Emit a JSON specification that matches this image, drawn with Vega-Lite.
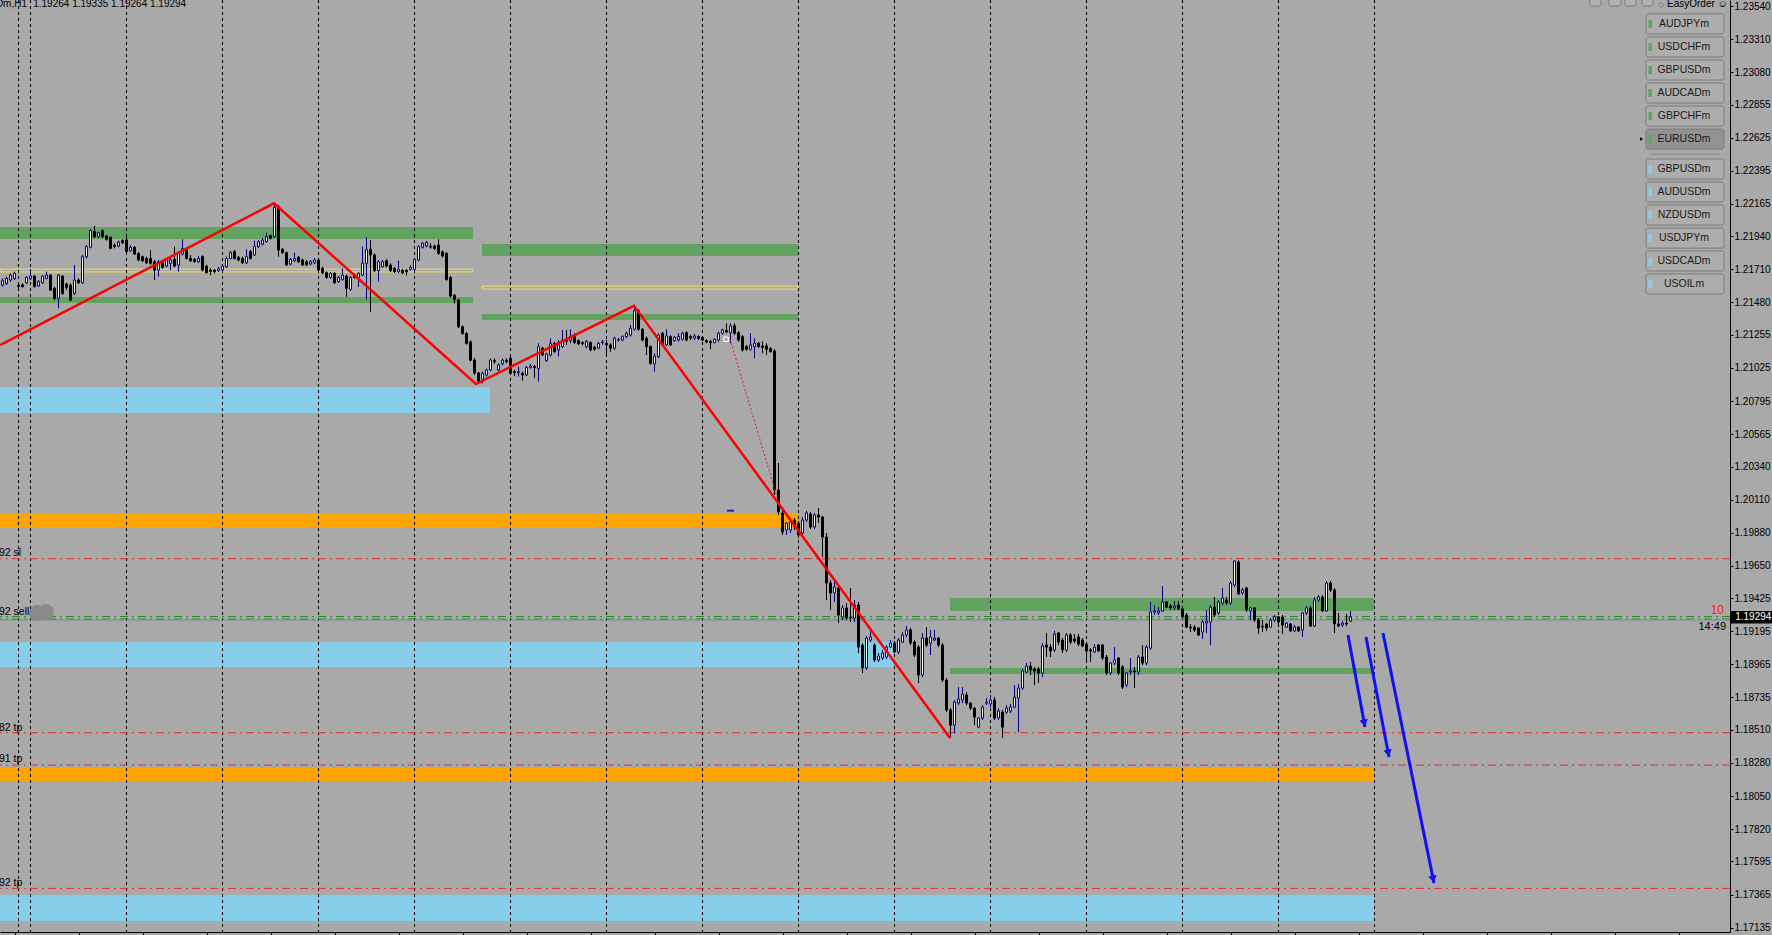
{
"$schema": "https://vega.github.io/schema/vega-lite/v6.json",
"width": 1730, "height": 932,
"autosize": {"type": "none"},
"padding": {"left": 0, "top": 0, "right": 42, "bottom": 3},
"background": "#A9A9A9",
"config": {"view": {"stroke": null, "fill": "#A9A9A9"}, "axis": {"grid": false}},
"datasets": {
"candles": [
{"i":0,"o":1.21601,"h":1.21647,"l":1.21589,"c":1.21631},
{"i":1,"o":1.21612,"h":1.21659,"l":1.21601,"c":1.21647},
{"i":2,"o":1.21636,"h":1.21682,"l":1.21624,"c":1.2167},
{"i":3,"o":1.21647,"h":1.21694,"l":1.21636,"c":1.21682},
{"i":4,"o":1.21599,"h":1.21617,"l":1.21566,"c":1.21592},
{"i":5,"o":1.21603,"h":1.21612,"l":1.21585,"c":1.21589},
{"i":6,"o":1.21617,"h":1.21663,"l":1.21608,"c":1.21654},
{"i":7,"o":1.21645,"h":1.21712,"l":1.21636,"c":1.21663},
{"i":8,"o":1.21663,"h":1.2167,"l":1.21585,"c":1.21589},
{"i":9,"o":1.21594,"h":1.21636,"l":1.21589,"c":1.21624},
{"i":10,"o":1.21617,"h":1.2167,"l":1.21608,"c":1.21663},
{"i":11,"o":1.21647,"h":1.21694,"l":1.2164,"c":1.2167},
{"i":12,"o":1.2167,"h":1.21677,"l":1.21561,"c":1.21566},
{"i":13,"o":1.21578,"h":1.21589,"l":1.21496,"c":1.21508},
{"i":14,"o":1.21508,"h":1.21677,"l":1.21438,"c":1.2167},
{"i":15,"o":1.21663,"h":1.2167,"l":1.21531,"c":1.21543},
{"i":16,"o":1.21608,"h":1.21617,"l":1.21566,"c":1.21585},
{"i":17,"o":1.21601,"h":1.21612,"l":1.21492,"c":1.21496},
{"i":18,"o":1.21543,"h":1.2174,"l":1.21531,"c":1.21636},
{"i":19,"o":1.21636,"h":1.21647,"l":1.21608,"c":1.21617},
{"i":20,"o":1.21617,"h":1.2181,"l":1.21608,"c":1.21798},
{"i":21,"o":1.21798,"h":1.21879,"l":1.21786,"c":1.21868},
{"i":22,"o":1.21863,"h":1.21988,"l":1.21856,"c":1.21979},
{"i":23,"o":1.21972,"h":1.22012,"l":1.21926,"c":1.21937},
{"i":24,"o":1.21937,"h":1.21972,"l":1.21926,"c":1.21965},
{"i":25,"o":1.21979,"h":1.21988,"l":1.21926,"c":1.21937},
{"i":26,"o":1.21942,"h":1.21949,"l":1.21909,"c":1.21919},
{"i":27,"o":1.21933,"h":1.21937,"l":1.21849,"c":1.21856},
{"i":28,"o":1.21877,"h":1.21891,"l":1.21856,"c":1.2187},
{"i":29,"o":1.21872,"h":1.21909,"l":1.21863,"c":1.219},
{"i":30,"o":1.21909,"h":1.21919,"l":1.21886,"c":1.21896},
{"i":31,"o":1.21914,"h":1.21937,"l":1.21821,"c":1.21833},
{"i":32,"o":1.2184,"h":1.21879,"l":1.21833,"c":1.21863},
{"i":33,"o":1.21863,"h":1.21872,"l":1.2181,"c":1.21817},
{"i":34,"o":1.21821,"h":1.2183,"l":1.21766,"c":1.21775},
{"i":35,"o":1.21798,"h":1.21807,"l":1.21761,"c":1.2177},
{"i":36,"o":1.21786,"h":1.21798,"l":1.21747,"c":1.21756},
{"i":37,"o":1.21786,"h":1.21844,"l":1.21742,"c":1.21752},
{"i":38,"o":1.21763,"h":1.21775,"l":1.21636,"c":1.21705},
{"i":39,"o":1.21705,"h":1.21775,"l":1.21659,"c":1.21763},
{"i":40,"o":1.21756,"h":1.21766,"l":1.21714,"c":1.21724},
{"i":41,"o":1.21733,"h":1.21786,"l":1.21724,"c":1.21775},
{"i":42,"o":1.21752,"h":1.21798,"l":1.21705,"c":1.21775},
{"i":43,"o":1.21779,"h":1.21868,"l":1.21724,"c":1.21733},
{"i":44,"o":1.2174,"h":1.21833,"l":1.21694,"c":1.21821},
{"i":45,"o":1.21817,"h":1.21919,"l":1.21807,"c":1.21856},
{"i":46,"o":1.21849,"h":1.21858,"l":1.21779,"c":1.21786},
{"i":47,"o":1.21786,"h":1.2181,"l":1.21761,"c":1.2177},
{"i":48,"o":1.21779,"h":1.21789,"l":1.21756,"c":1.21763},
{"i":49,"o":1.21763,"h":1.21803,"l":1.21756,"c":1.21786},
{"i":50,"o":1.21798,"h":1.21807,"l":1.21696,"c":1.21705},
{"i":51,"o":1.21733,"h":1.21742,"l":1.21682,"c":1.21687},
{"i":52,"o":1.21705,"h":1.21719,"l":1.2167,"c":1.21696},
{"i":53,"o":1.21705,"h":1.21714,"l":1.21682,"c":1.21694},
{"i":54,"o":1.21701,"h":1.21728,"l":1.21691,"c":1.21714},
{"i":55,"o":1.21705,"h":1.21742,"l":1.21696,"c":1.21733},
{"i":56,"o":1.21728,"h":1.21798,"l":1.21719,"c":1.21786},
{"i":57,"o":1.21786,"h":1.21838,"l":1.21779,"c":1.21826},
{"i":58,"o":1.21833,"h":1.21844,"l":1.21779,"c":1.21786},
{"i":59,"o":1.21793,"h":1.21803,"l":1.21766,"c":1.21775},
{"i":60,"o":1.21786,"h":1.21798,"l":1.21747,"c":1.21756},
{"i":61,"o":1.21756,"h":1.21849,"l":1.21747,"c":1.21798},
{"i":62,"o":1.21833,"h":1.21844,"l":1.21779,"c":1.21786},
{"i":63,"o":1.2181,"h":1.21909,"l":1.21803,"c":1.21868},
{"i":64,"o":1.21868,"h":1.21914,"l":1.21858,"c":1.21902},
{"i":65,"o":1.21886,"h":1.21926,"l":1.21877,"c":1.21914},
{"i":66,"o":1.21902,"h":1.21965,"l":1.21896,"c":1.21937},
{"i":67,"o":1.21944,"h":1.21953,"l":1.21919,"c":1.21926},
{"i":68,"o":1.21937,"h":1.22165,"l":1.21928,"c":1.22141},
{"i":69,"o":1.22146,"h":1.22158,"l":1.21798,"c":1.21844},
{"i":70,"o":1.21849,"h":1.21858,"l":1.21817,"c":1.21826},
{"i":71,"o":1.21826,"h":1.21835,"l":1.21733,"c":1.2174},
{"i":72,"o":1.21747,"h":1.21789,"l":1.21738,"c":1.21779},
{"i":73,"o":1.2177,"h":1.21826,"l":1.21761,"c":1.21786},
{"i":74,"o":1.21793,"h":1.21803,"l":1.21756,"c":1.21763},
{"i":75,"o":1.21775,"h":1.21784,"l":1.21733,"c":1.2174},
{"i":76,"o":1.21763,"h":1.21775,"l":1.21733,"c":1.2174},
{"i":77,"o":1.21747,"h":1.21775,"l":1.21738,"c":1.21763},
{"i":78,"o":1.21756,"h":1.21789,"l":1.21747,"c":1.21775},
{"i":79,"o":1.21775,"h":1.21784,"l":1.21696,"c":1.21705},
{"i":80,"o":1.21717,"h":1.21728,"l":1.21677,"c":1.21687},
{"i":81,"o":1.21687,"h":1.21696,"l":1.21645,"c":1.21654},
{"i":82,"o":1.21654,"h":1.21691,"l":1.21645,"c":1.21682},
{"i":83,"o":1.21682,"h":1.21691,"l":1.21608,"c":1.21617},
{"i":84,"o":1.21624,"h":1.21663,"l":1.21617,"c":1.21654},
{"i":85,"o":1.2164,"h":1.21717,"l":1.21631,"c":1.2167},
{"i":86,"o":1.21663,"h":1.21673,"l":1.2152,"c":1.21578},
{"i":87,"o":1.21571,"h":1.21663,"l":1.21561,"c":1.21654},
{"i":88,"o":1.2167,"h":1.21682,"l":1.21645,"c":1.21654},
{"i":89,"o":1.21654,"h":1.21691,"l":1.21589,"c":1.21682},
{"i":90,"o":1.2167,"h":1.21868,"l":1.21663,"c":1.21752},
{"i":91,"o":1.21752,"h":1.21933,"l":1.21501,"c":1.21849},
{"i":92,"o":1.21849,"h":1.21914,"l":1.21415,"c":1.2181},
{"i":93,"o":1.2181,"h":1.21821,"l":1.21691,"c":1.21701},
{"i":94,"o":1.21701,"h":1.21775,"l":1.21624,"c":1.21763},
{"i":95,"o":1.21728,"h":1.21775,"l":1.21719,"c":1.21763},
{"i":96,"o":1.2177,"h":1.21779,"l":1.21724,"c":1.21733},
{"i":97,"o":1.2174,"h":1.21752,"l":1.21691,"c":1.21701},
{"i":98,"o":1.21717,"h":1.21726,"l":1.21684,"c":1.21694},
{"i":99,"o":1.21694,"h":1.2177,"l":1.21684,"c":1.2171},
{"i":100,"o":1.21705,"h":1.21714,"l":1.21677,"c":1.21687},
{"i":101,"o":1.21703,"h":1.21714,"l":1.21668,"c":1.21694},
{"i":102,"o":1.2171,"h":1.21738,"l":1.21701,"c":1.21724},
{"i":103,"o":1.2171,"h":1.21789,"l":1.21701,"c":1.21779},
{"i":104,"o":1.21775,"h":1.21877,"l":1.21766,"c":1.21868},
{"i":105,"o":1.21863,"h":1.219,"l":1.21854,"c":1.21891},
{"i":106,"o":1.21872,"h":1.21907,"l":1.21863,"c":1.21898},
{"i":107,"o":1.2187,"h":1.21891,"l":1.21854,"c":1.21865},
{"i":108,"o":1.21872,"h":1.21882,"l":1.21844,"c":1.21856},
{"i":109,"o":1.21879,"h":1.21919,"l":1.21812,"c":1.21821},
{"i":110,"o":1.21833,"h":1.21842,"l":1.21793,"c":1.21803},
{"i":111,"o":1.21821,"h":1.2183,"l":1.21631,"c":1.2164},
{"i":112,"o":1.21654,"h":1.21663,"l":1.21515,"c":1.21524},
{"i":113,"o":1.21531,"h":1.21538,"l":1.21473,"c":1.21501},
{"i":114,"o":1.21496,"h":1.21506,"l":1.21302,"c":1.21311},
{"i":115,"o":1.21311,"h":1.2132,"l":1.21255,"c":1.21264},
{"i":116,"o":1.21264,"h":1.21274,"l":1.21186,"c":1.21195},
{"i":117,"o":1.21206,"h":1.21216,"l":1.2107,"c":1.21079},
{"i":118,"o":1.2108,"h":1.21094,"l":1.20976,"c":1.2099},
{"i":119,"o":1.2099,"h":1.20997,"l":1.20913,"c":1.20934},
{"i":120,"o":1.20946,"h":1.20999,"l":1.20918,"c":1.20988},
{"i":121,"o":1.20976,"h":1.2102,"l":1.20965,"c":1.21011},
{"i":122,"o":1.21011,"h":1.21092,"l":1.21002,"c":1.2108},
{"i":123,"o":1.21076,"h":1.21092,"l":1.21053,"c":1.21069},
{"i":124,"o":1.21011,"h":1.21057,"l":1.21002,"c":1.21046},
{"i":125,"o":1.21053,"h":1.2109,"l":1.21043,"c":1.2108},
{"i":126,"o":1.21076,"h":1.21092,"l":1.21057,"c":1.21069},
{"i":127,"o":1.21092,"h":1.21104,"l":1.20979,"c":1.20988},
{"i":128,"o":1.20999,"h":1.21011,"l":1.20969,"c":1.20992},
{"i":129,"o":1.20992,"h":1.21034,"l":1.20965,"c":1.20999},
{"i":130,"o":1.20988,"h":1.20999,"l":1.20937,"c":1.20976},
{"i":131,"o":1.20976,"h":1.21039,"l":1.20969,"c":1.21029},
{"i":132,"o":1.21029,"h":1.21053,"l":1.2102,"c":1.21039},
{"i":133,"o":1.21034,"h":1.21046,"l":1.20953,"c":1.21029},
{"i":134,"o":1.21022,"h":1.21196,"l":1.2093,"c":1.21173},
{"i":135,"o":1.21162,"h":1.21173,"l":1.21108,"c":1.21115},
{"i":136,"o":1.21076,"h":1.21131,"l":1.21067,"c":1.21122},
{"i":137,"o":1.21115,"h":1.21231,"l":1.21104,"c":1.21196},
{"i":138,"o":1.21196,"h":1.21206,"l":1.21131,"c":1.21138},
{"i":139,"o":1.2115,"h":1.21219,"l":1.21104,"c":1.21185},
{"i":140,"o":1.21173,"h":1.21289,"l":1.21162,"c":1.21219},
{"i":141,"o":1.21215,"h":1.21289,"l":1.21185,"c":1.2121},
{"i":142,"o":1.21215,"h":1.21294,"l":1.21196,"c":1.21243},
{"i":143,"o":1.21247,"h":1.21266,"l":1.21192,"c":1.21201},
{"i":144,"o":1.21215,"h":1.21224,"l":1.21185,"c":1.21192},
{"i":145,"o":1.21201,"h":1.2121,"l":1.21182,"c":1.21196},
{"i":146,"o":1.21173,"h":1.21219,"l":1.21162,"c":1.21208},
{"i":147,"o":1.21201,"h":1.2121,"l":1.21141,"c":1.2115},
{"i":148,"o":1.21168,"h":1.21178,"l":1.21145,"c":1.21155},
{"i":149,"o":1.21162,"h":1.21206,"l":1.21155,"c":1.21196},
{"i":150,"o":1.21201,"h":1.21219,"l":1.21187,"c":1.21206},
{"i":151,"o":1.21196,"h":1.21219,"l":1.21115,"c":1.21185},
{"i":152,"o":1.21185,"h":1.21196,"l":1.21138,"c":1.21162},
{"i":153,"o":1.21162,"h":1.21243,"l":1.2115,"c":1.21231},
{"i":154,"o":1.21219,"h":1.21233,"l":1.21206,"c":1.21224},
{"i":155,"o":1.21219,"h":1.21252,"l":1.2121,"c":1.21243},
{"i":156,"o":1.21243,"h":1.21277,"l":1.21231,"c":1.21266},
{"i":157,"o":1.21254,"h":1.21324,"l":1.21243,"c":1.21301},
{"i":158,"o":1.21294,"h":1.21451,"l":1.21284,"c":1.21423},
{"i":159,"o":1.21423,"h":1.21433,"l":1.21284,"c":1.21294},
{"i":160,"o":1.21294,"h":1.21303,"l":1.2121,"c":1.21219},
{"i":161,"o":1.21231,"h":1.21243,"l":1.21115,"c":1.21173},
{"i":162,"o":1.21173,"h":1.21182,"l":1.21048,"c":1.21057},
{"i":163,"o":1.21053,"h":1.21127,"l":1.20999,"c":1.21108},
{"i":164,"o":1.21104,"h":1.21266,"l":1.21094,"c":1.21254},
{"i":165,"o":1.21266,"h":1.21275,"l":1.21178,"c":1.21185},
{"i":166,"o":1.21185,"h":1.21294,"l":1.21178,"c":1.21247},
{"i":167,"o":1.21243,"h":1.21252,"l":1.21178,"c":1.21185},
{"i":168,"o":1.21215,"h":1.21247,"l":1.21206,"c":1.21238},
{"i":169,"o":1.21219,"h":1.21266,"l":1.21208,"c":1.21243},
{"i":170,"o":1.21224,"h":1.21277,"l":1.21215,"c":1.21266},
{"i":171,"o":1.2127,"h":1.2128,"l":1.2121,"c":1.21219},
{"i":172,"o":1.21243,"h":1.21254,"l":1.21219,"c":1.21233},
{"i":173,"o":1.21231,"h":1.21261,"l":1.21219,"c":1.21247},
{"i":174,"o":1.21243,"h":1.21252,"l":1.21219,"c":1.21231},
{"i":175,"o":1.21238,"h":1.21247,"l":1.2121,"c":1.21219},
{"i":176,"o":1.21215,"h":1.21224,"l":1.21196,"c":1.21206},
{"i":177,"o":1.21208,"h":1.21219,"l":1.21155,"c":1.21201},
{"i":178,"o":1.21201,"h":1.21231,"l":1.21196,"c":1.21224},
{"i":179,"o":1.21219,"h":1.21277,"l":1.21208,"c":1.21266},
{"i":180,"o":1.21266,"h":1.21298,"l":1.21257,"c":1.21289},
{"i":181,"o":1.21284,"h":1.21335,"l":1.21266,"c":1.21275},
{"i":182,"o":1.2127,"h":1.21335,"l":1.21196,"c":1.21317},
{"i":183,"o":1.21317,"h":1.21335,"l":1.21254,"c":1.21266},
{"i":184,"o":1.2127,"h":1.2128,"l":1.21208,"c":1.21219},
{"i":185,"o":1.21243,"h":1.21254,"l":1.21138,"c":1.2115},
{"i":186,"o":1.21173,"h":1.21185,"l":1.21145,"c":1.21155},
{"i":187,"o":1.21155,"h":1.21266,"l":1.21145,"c":1.21185},
{"i":188,"o":1.21173,"h":1.21231,"l":1.21092,"c":1.21196},
{"i":189,"o":1.21196,"h":1.21206,"l":1.21164,"c":1.21173},
{"i":190,"o":1.21178,"h":1.21208,"l":1.21127,"c":1.21168},
{"i":191,"o":1.21178,"h":1.21196,"l":1.21115,"c":1.21155},
{"i":192,"o":1.21162,"h":1.21168,"l":1.21131,"c":1.21138},
{"i":193,"o":1.21143,"h":1.21156,"l":1.20142,"c":1.20177},
{"i":194,"o":1.20177,"h":1.20364,"l":1.20003,"c":1.20024},
{"i":195,"o":1.20017,"h":1.20038,"l":1.19864,"c":1.19885},
{"i":196,"o":1.19899,"h":1.19954,"l":1.19864,"c":1.19947},
{"i":197,"o":1.19899,"h":1.19968,"l":1.19878,"c":1.19954},
{"i":198,"o":1.19968,"h":1.19982,"l":1.19899,"c":1.19926},
{"i":199,"o":1.19947,"h":1.19961,"l":1.19843,"c":1.19864},
{"i":200,"o":1.19878,"h":1.19989,"l":1.19864,"c":1.19968},
{"i":201,"o":1.19968,"h":1.20031,"l":1.19954,"c":1.20017},
{"i":202,"o":1.2001,"h":1.20024,"l":1.19906,"c":1.19919},
{"i":203,"o":1.19919,"h":1.20017,"l":1.19906,"c":1.20003},
{"i":204,"o":1.20003,"h":1.20051,"l":1.19947,"c":1.19989},
{"i":205,"o":1.19989,"h":1.19996,"l":1.19711,"c":1.1985},
{"i":206,"o":1.1985,"h":1.19878,"l":1.19412,"c":1.1953},
{"i":207,"o":1.1953,"h":1.19551,"l":1.19343,"c":1.19461},
{"i":208,"o":1.19461,"h":1.19551,"l":1.19398,"c":1.19503},
{"i":209,"o":1.19496,"h":1.19509,"l":1.19252,"c":1.19308},
{"i":210,"o":1.19294,"h":1.19377,"l":1.19273,"c":1.19357},
{"i":211,"o":1.19357,"h":1.19391,"l":1.19273,"c":1.19287},
{"i":212,"o":1.19294,"h":1.19496,"l":1.19259,"c":1.19287},
{"i":213,"o":1.19287,"h":1.19412,"l":1.19259,"c":1.19377},
{"i":214,"o":1.19377,"h":1.19398,"l":1.19044,"c":1.19085},
{"i":215,"o":1.19099,"h":1.19113,"l":1.18905,"c":1.1894},
{"i":216,"o":1.1894,"h":1.19162,"l":1.18926,"c":1.19148},
{"i":217,"o":1.19134,"h":1.19204,"l":1.1912,"c":1.19155},
{"i":218,"o":1.19099,"h":1.19113,"l":1.18981,"c":1.18995},
{"i":219,"o":1.18995,"h":1.19044,"l":1.18981,"c":1.19023},
{"i":220,"o":1.19009,"h":1.19065,"l":1.18995,"c":1.19044},
{"i":221,"o":1.19016,"h":1.19099,"l":1.19002,"c":1.19085},
{"i":222,"o":1.19085,"h":1.19134,"l":1.19078,"c":1.19113},
{"i":223,"o":1.19113,"h":1.19127,"l":1.19044,"c":1.19051},
{"i":224,"o":1.19051,"h":1.19148,"l":1.19037,"c":1.19134},
{"i":225,"o":1.1912,"h":1.1919,"l":1.19113,"c":1.19169},
{"i":226,"o":1.19169,"h":1.19231,"l":1.19155,"c":1.19204},
{"i":227,"o":1.19204,"h":1.19218,"l":1.19099,"c":1.19113},
{"i":228,"o":1.1912,"h":1.19134,"l":1.19016,"c":1.1903},
{"i":229,"o":1.19085,"h":1.19099,"l":1.18835,"c":1.18891},
{"i":230,"o":1.18891,"h":1.19183,"l":1.18877,"c":1.19148},
{"i":231,"o":1.19148,"h":1.19224,"l":1.19085,"c":1.19099},
{"i":232,"o":1.19113,"h":1.19204,"l":1.1903,"c":1.19155},
{"i":233,"o":1.19134,"h":1.19204,"l":1.19127,"c":1.19148},
{"i":234,"o":1.19148,"h":1.19155,"l":1.19085,"c":1.19099},
{"i":235,"o":1.19099,"h":1.19113,"l":1.18842,"c":1.18856},
{"i":236,"o":1.18856,"h":1.1887,"l":1.18633,"c":1.18648},
{"i":237,"o":1.18648,"h":1.18661,"l":1.18453,"c":1.18543},
{"i":238,"o":1.18543,"h":1.18717,"l":1.18488,"c":1.18703},
{"i":239,"o":1.18696,"h":1.18807,"l":1.18682,"c":1.18724},
{"i":240,"o":1.18717,"h":1.18807,"l":1.18696,"c":1.18759},
{"i":241,"o":1.18752,"h":1.18773,"l":1.18682,"c":1.18696},
{"i":242,"o":1.18696,"h":1.18703,"l":1.18648,"c":1.18661},
{"i":243,"o":1.18661,"h":1.18668,"l":1.18543,"c":1.18599},
{"i":244,"o":1.18529,"h":1.18599,"l":1.18522,"c":1.18592},
{"i":245,"o":1.18592,"h":1.18682,"l":1.18578,"c":1.18668},
{"i":246,"o":1.18696,"h":1.18731,"l":1.18682,"c":1.18703},
{"i":247,"o":1.18689,"h":1.18752,"l":1.18668,"c":1.18717},
{"i":248,"o":1.18717,"h":1.18738,"l":1.18578,"c":1.18592},
{"i":249,"o":1.18592,"h":1.18661,"l":1.18578,"c":1.18641},
{"i":250,"o":1.18633,"h":1.18648,"l":1.18453,"c":1.18529},
{"i":251,"o":1.18633,"h":1.18682,"l":1.1862,"c":1.18661},
{"i":252,"o":1.18641,"h":1.18689,"l":1.18627,"c":1.18668},
{"i":253,"o":1.18668,"h":1.18821,"l":1.18661,"c":1.18738},
{"i":254,"o":1.18731,"h":1.18828,"l":1.18495,"c":1.188},
{"i":255,"o":1.188,"h":1.18933,"l":1.18787,"c":1.18919},
{"i":256,"o":1.18912,"h":1.18974,"l":1.18905,"c":1.18953},
{"i":257,"o":1.18953,"h":1.18981,"l":1.18891,"c":1.18926},
{"i":258,"o":1.18933,"h":1.18947,"l":1.18821,"c":1.18919},
{"i":259,"o":1.18933,"h":1.18947,"l":1.18835,"c":1.18905},
{"i":260,"o":1.18905,"h":1.19113,"l":1.18877,"c":1.19092},
{"i":261,"o":1.19099,"h":1.19183,"l":1.19016,"c":1.19085},
{"i":262,"o":1.19085,"h":1.19106,"l":1.19016,"c":1.19058},
{"i":263,"o":1.19065,"h":1.19197,"l":1.19051,"c":1.19176},
{"i":264,"o":1.19183,"h":1.1919,"l":1.19099,"c":1.1912},
{"i":265,"o":1.19134,"h":1.19148,"l":1.19044,"c":1.19065},
{"i":266,"o":1.19065,"h":1.19183,"l":1.19051,"c":1.19169},
{"i":267,"o":1.19169,"h":1.19183,"l":1.19106,"c":1.1912},
{"i":268,"o":1.19141,"h":1.19176,"l":1.19113,"c":1.19127},
{"i":269,"o":1.19155,"h":1.19176,"l":1.19092,"c":1.19106},
{"i":270,"o":1.19134,"h":1.19148,"l":1.19085,"c":1.19092},
{"i":271,"o":1.19106,"h":1.1912,"l":1.18995,"c":1.19058},
{"i":272,"o":1.19065,"h":1.19078,"l":1.18981,"c":1.19058},
{"i":273,"o":1.19051,"h":1.19106,"l":1.19044,"c":1.19085},
{"i":274,"o":1.19099,"h":1.19106,"l":1.19051,"c":1.19058},
{"i":275,"o":1.19099,"h":1.19106,"l":1.18995,"c":1.19009},
{"i":276,"o":1.19016,"h":1.1903,"l":1.18891,"c":1.18905},
{"i":277,"o":1.18905,"h":1.18981,"l":1.18891,"c":1.18974},
{"i":278,"o":1.18974,"h":1.19085,"l":1.1896,"c":1.18995},
{"i":279,"o":1.19009,"h":1.19016,"l":1.18891,"c":1.18905},
{"i":280,"o":1.18947,"h":1.1896,"l":1.18794,"c":1.18807},
{"i":281,"o":1.18821,"h":1.18912,"l":1.18807,"c":1.18905},
{"i":282,"o":1.18912,"h":1.19009,"l":1.18891,"c":1.18919},
{"i":283,"o":1.18919,"h":1.18947,"l":1.188,"c":1.18912},
{"i":284,"o":1.18912,"h":1.1903,"l":1.18891,"c":1.19016},
{"i":285,"o":1.19016,"h":1.19099,"l":1.1896,"c":1.18974},
{"i":286,"o":1.18974,"h":1.19099,"l":1.1896,"c":1.19085},
{"i":287,"o":1.19078,"h":1.19398,"l":1.19065,"c":1.19329},
{"i":288,"o":1.19329,"h":1.19377,"l":1.19308,"c":1.19336},
{"i":289,"o":1.19322,"h":1.19363,"l":1.19308,"c":1.19336},
{"i":290,"o":1.19336,"h":1.19509,"l":1.19329,"c":1.19398},
{"i":291,"o":1.19398,"h":1.19405,"l":1.19357,"c":1.19363},
{"i":292,"o":1.1937,"h":1.19384,"l":1.19343,"c":1.19357},
{"i":293,"o":1.19357,"h":1.19405,"l":1.19343,"c":1.1937},
{"i":294,"o":1.19377,"h":1.19405,"l":1.19343,"c":1.1935},
{"i":295,"o":1.1935,"h":1.19357,"l":1.19287,"c":1.19294},
{"i":296,"o":1.19308,"h":1.19322,"l":1.19218,"c":1.19224},
{"i":297,"o":1.19224,"h":1.19245,"l":1.1919,"c":1.19218},
{"i":298,"o":1.19224,"h":1.19238,"l":1.1919,"c":1.19204},
{"i":299,"o":1.19218,"h":1.19218,"l":1.19162,"c":1.19169},
{"i":300,"o":1.1919,"h":1.19273,"l":1.19141,"c":1.19259},
{"i":301,"o":1.19252,"h":1.19343,"l":1.19183,"c":1.19266},
{"i":302,"o":1.19259,"h":1.19377,"l":1.19099,"c":1.19363},
{"i":303,"o":1.19363,"h":1.19433,"l":1.19294,"c":1.19308},
{"i":304,"o":1.19322,"h":1.19412,"l":1.19308,"c":1.19398},
{"i":305,"o":1.19391,"h":1.19496,"l":1.19377,"c":1.19426},
{"i":306,"o":1.19412,"h":1.19433,"l":1.19377,"c":1.19391},
{"i":307,"o":1.19391,"h":1.19544,"l":1.19377,"c":1.1953},
{"i":308,"o":1.19516,"h":1.1969,"l":1.19503,"c":1.19683},
{"i":309,"o":1.19676,"h":1.1969,"l":1.19447,"c":1.19454},
{"i":310,"o":1.19461,"h":1.19496,"l":1.19447,"c":1.19482},
{"i":311,"o":1.19496,"h":1.19503,"l":1.19329,"c":1.19343},
{"i":312,"o":1.19336,"h":1.19363,"l":1.19273,"c":1.19357},
{"i":313,"o":1.19357,"h":1.19363,"l":1.19259,"c":1.19273},
{"i":314,"o":1.19273,"h":1.19287,"l":1.19176,"c":1.19218},
{"i":315,"o":1.19231,"h":1.19273,"l":1.1919,"c":1.19224},
{"i":316,"o":1.19245,"h":1.19252,"l":1.19197,"c":1.19218},
{"i":317,"o":1.19224,"h":1.19287,"l":1.19218,"c":1.19273},
{"i":318,"o":1.19273,"h":1.19308,"l":1.19259,"c":1.19294},
{"i":319,"o":1.19294,"h":1.19301,"l":1.19245,"c":1.19259},
{"i":320,"o":1.19294,"h":1.19308,"l":1.19176,"c":1.19238},
{"i":321,"o":1.19224,"h":1.19259,"l":1.19218,"c":1.19252},
{"i":322,"o":1.19245,"h":1.19252,"l":1.1919,"c":1.19197},
{"i":323,"o":1.19197,"h":1.19238,"l":1.1919,"c":1.19224},
{"i":324,"o":1.19224,"h":1.19231,"l":1.1919,"c":1.19197},
{"i":325,"o":1.19204,"h":1.19329,"l":1.19155,"c":1.19322},
{"i":326,"o":1.19322,"h":1.1937,"l":1.19308,"c":1.19357},
{"i":327,"o":1.19357,"h":1.1937,"l":1.19224,"c":1.19231},
{"i":328,"o":1.19231,"h":1.19433,"l":1.19224,"c":1.19412},
{"i":329,"o":1.19412,"h":1.19447,"l":1.19398,"c":1.19433},
{"i":330,"o":1.19433,"h":1.19447,"l":1.19329,"c":1.19336},
{"i":331,"o":1.19336,"h":1.19544,"l":1.19329,"c":1.1953},
{"i":332,"o":1.1953,"h":1.19544,"l":1.19468,"c":1.19482},
{"i":333,"o":1.19482,"h":1.19496,"l":1.19183,"c":1.19245},
{"i":334,"o":1.19245,"h":1.19322,"l":1.19224,"c":1.19231},
{"i":335,"o":1.19238,"h":1.19266,"l":1.19224,"c":1.19252},
{"i":336,"o":1.19252,"h":1.19315,"l":1.19231,"c":1.19245},
{"i":337,"o":1.19264,"h":1.19335,"l":1.19264,"c":1.19294}
],
"zones": [
{"x1":-0.5,"x2":117.75,"p1":1.22005,"p2":1.21921,"kind":"supply"},
{"x1":-0.5,"x2":117.75,"p1":1.21518,"p2":1.21476,"kind":"supply"},
{"x1":-0.5,"x2":122,"p1":1.20892,"p2":1.20712,"kind":"demand"},
{"x1":120,"x2":199,"p1":1.21886,"p2":1.21803,"kind":"supply"},
{"x1":120,"x2":199,"p1":1.214,"p2":1.21358,"kind":"supply"},
{"x1":-0.5,"x2":198.75,"p1":1.2001,"p2":1.19919,"kind":"key"},
{"x1":-0.5,"x2":222.75,"p1":1.1912,"p2":1.18946,"kind":"demand"},
{"x1":237,"x2":343,"p1":1.19426,"p2":1.19336,"kind":"supply"},
{"x1":237,"x2":343,"p1":1.1894,"p2":1.18898,"kind":"supply"},
{"x1":-0.5,"x2":343,"p1":1.18244,"p2":1.18154,"kind":"key"},
{"x1":-0.5,"x2":343,"p1":1.17362,"p2":1.17181,"kind":"demand"}
],
"outlines": [
{"x1":-0.5,"x2":117.75,"p1":1.21712,"p2":1.21692},
{"x1":120,"x2":199,"p1":1.21594,"p2":1.21573}
],
"seps": [{"i":4},{"i":7},{"i":31},{"i":55},{"i":79},{"i":103},{"i":127},{"i":151},{"i":175},{"i":199},{"i":223},{"i":247},{"i":271},{"i":295},{"i":319},{"i":343}],
"levels": [
{"p":1.19699,"kind":"sl"},{"p":1.1849,"kind":"tp"},{"p":1.18265,"kind":"tp"},{"p":1.17408,"kind":"tp"},
{"p":1.19297,"kind":"entry"},{"p":1.1928,"kind":"entry"},{"p":1.19273,"kind":"price"}
],
"zigzag": [
{"n":0,"i":-0.5,"p":1.21184},{"n":1,"i":68,"p":1.22169},{"n":2,"i":118.5,"p":1.20913},{"n":3,"i":158,"p":1.21457},{"n":4,"i":237,"p":1.18453}
],
"segs": [
{"kind":"proj","i":182,"p":1.21226,"i2":193.75,"p2":1.20128},
{"kind":"arrow","i":336.5,"p":1.19169,"i2":340.75,"p2":1.18529},
{"kind":"arrow","i":341,"p":1.19155,"i2":346.75,"p2":1.18321},
{"kind":"arrow","i":345.25,"p":1.19183,"i2":358,"p2":1.17445},
{"kind":"tick","i":181.25,"p":1.20033,"i2":183,"p2":1.20033}
],
"heads": [{"i":340.57,"p":1.18556},{"i":346.56,"p":1.18348},{"i":357.8,"p":1.17472}],
"leftText": [
{"i":-0.75,"p":1.19739,"t":"92 sl"},
{"i":-0.75,"p":1.19331,"t":"92 sell"},
{"i":-0.75,"p":1.18525,"t":"82 tp"},
{"i":-0.75,"p":1.18307,"t":"91 tp"},
{"i":-0.75,"p":1.17447,"t":"92 tp"}
],
"headText": [
{"i":7.8,"p":1.23557,"t":"1.19264 1.19335 1.19264 1.19294"},
{"i":416.25,"p":1.23557,"t":"EasyOrder ☺"}
],
"rightText": [
{"i":6.25,"p":1.23557,"t":"EURUSDm,H1"}
],
"toolbar": [
{"i":396.9,"i2":399.75,"p":1.23617,"p2":1.2354},
{"i":401.75,"i2":404.75,"p":1.23617,"p2":1.2354},
{"i":405.75,"i2":408.5,"p":1.23617,"p2":1.2354},
{"i":410,"i2":412.75,"p":1.23617,"p2":1.2354},
{"i":414.25,"i2":415.25,"p":1.23561,"p2":1.23533}
],
"buttons": [
{"sym":"AUDJPYm","side":"buy","on":false,"p":1.23485,"p2":1.23346,"pm":1.23415,"q":1.23443,"q2":1.23388},
{"sym":"USDCHFm","side":"buy","on":false,"p":1.23325,"p2":1.23186,"pm":1.23255,"q":1.23283,"q2":1.23228},
{"sym":"GBPUSDm","side":"buy","on":false,"p":1.23165,"p2":1.23026,"pm":1.23096,"q":1.23123,"q2":1.23068},
{"sym":"AUDCADm","side":"buy","on":false,"p":1.23005,"p2":1.22866,"pm":1.22936,"q":1.22963,"q2":1.22908},
{"sym":"GBPCHFm","side":"buy","on":false,"p":1.22845,"p2":1.22706,"pm":1.22776,"q":1.22804,"q2":1.22748},
{"sym":"EURUSDm","side":"buy","on":true,"p":1.22685,"p2":1.22546,"pm":1.22616,"q":1.22644,"q2":1.22588},
{"sym":"GBPUSDm","side":"sell","on":false,"p":1.22477,"p2":1.22338,"pm":1.22408,"q":1.22435,"q2":1.2238},
{"sym":"AUDUSDm","side":"sell","on":false,"p":1.22317,"p2":1.22178,"pm":1.22248,"q":1.22275,"q2":1.2222},
{"sym":"NZDUSDm","side":"sell","on":false,"p":1.22157,"p2":1.22018,"pm":1.22088,"q":1.22116,"q2":1.2206},
{"sym":"USDJPYm","side":"sell","on":false,"p":1.21997,"p2":1.21858,"pm":1.21928,"q":1.21956,"q2":1.219},
{"sym":"USDCADm","side":"sell","on":false,"p":1.21838,"p2":1.21699,"pm":1.21768,"q":1.21796,"q2":1.2174},
{"sym":"USOILm","side":"sell","on":false,"p":1.21678,"p2":1.21539,"pm":1.21608,"q":1.21636,"q2":1.2158}
]
},
"layer": [
{"data": {"name": "zones"}, "mark": {"type": "rect"},
 "encoding": {
  "x": {"field": "x1", "type": "quantitative", "title": null, "scale": {"domain": [-0.5, 432], "nice": false, "zero": false, "padding": 0},
        "axis": {"orient": "bottom", "values": [3.2,19.2,35.2,51.2,67.2,83.2,99.2,115.2,131.2,147.2,163.2,179.2,195.2,211.2,227.2,243.2,259.2,275.2,291.2,307.2,323.2,339.2,355.2,371.2,387.2,403.2,419.2], "tickCount": 100, "labels": false, "ticks": true, "domain": true, "tickSize": 4, "tickColor": "#000000", "domainColor": "#000000", "grid": false, "title": null}},
  "x2": {"field": "x2"},
  "y": {"field": "p1", "type": "quantitative", "title": null, "scale": {"domain": [1.17105, 1.23582], "nice": false, "zero": false, "padding": 0},
        "axis": {"orient": "right", "values": [1.2354,1.2331,1.2308,1.22855,1.22625,1.22395,1.22165,1.2194,1.2171,1.2148,1.21255,1.21025,1.20795,1.20565,1.2034,1.2011,1.1988,1.1965,1.19425,1.19195,1.18965,1.18735,1.1851,1.1828,1.1805,1.1782,1.17595,1.17365,1.17135], "tickCount": 100, "format": ".5f", "labels": true, "ticks": true, "domain": true, "tickSize": 3, "tickColor": "#000000", "domainColor": "#000000", "labelColor": "#000000", "labelFont": "Liberation Sans", "labelFontSize": 10, "labelPadding": 1, "labelOverlap": false, "labelFlush": false, "grid": false, "title": null}},
  "y2": {"field": "p2"},
  "color": {"field": "kind", "type": "nominal", "scale": {"domain": ["supply", "demand", "key"], "range": ["#62A362", "#87CEEB", "#FFA500"]}, "legend": null}
 }},
{"data": {"name": "outlines"}, "mark": {"type": "rect", "fillOpacity": 0, "stroke": "#F2DE5C", "strokeWidth": 1},
 "encoding": {"x": {"field": "x1", "type": "quantitative", "title": null}, "x2": {"field": "x2"}, "y": {"field": "p1", "type": "quantitative", "title": null}, "y2": {"field": "p2"}}},
{"data": {"name": "seps"}, "mark": {"type": "rule", "color": "#000000", "strokeDash": [3, 3], "strokeWidth": 1, "xOffset": 0.5},
 "encoding": {"x": {"field": "i", "type": "quantitative", "title": null}}},
{"data": {"name": "levels"}, "transform": [{"filter": "datum.kind == 'sl' || datum.kind == 'tp'"}],
 "mark": {"type": "rule", "color": "#F02A2A", "strokeDash": [8, 4, 2, 4], "strokeWidth": 1},
 "encoding": {"y": {"field": "p", "type": "quantitative", "title": null}}},
{"data": {"name": "levels"}, "transform": [{"filter": "datum.kind == 'entry'"}],
 "mark": {"type": "rule", "color": "#1F8F1F", "strokeDash": [8, 4, 2, 4], "strokeWidth": 1},
 "encoding": {"y": {"field": "p", "type": "quantitative", "title": null}}},
{"data": {"name": "levels"}, "transform": [{"filter": "datum.kind == 'price'"}],
 "mark": {"type": "rule", "color": "#848A93", "strokeWidth": 1},
 "encoding": {"y": {"field": "p", "type": "quantitative", "title": null}}},
{"data": {"name": "candles"}, "mark": {"type": "rule", "strokeWidth": 1, "xOffset": 0.5},
 "encoding": {"x": {"field": "i", "type": "quantitative", "title": null}, "y": {"field": "l", "type": "quantitative", "title": null}, "y2": {"field": "h"},
  "color": {"condition": {"test": "datum.c >= datum.o", "value": "#000080"}, "value": "#000000"}}},
{"data": {"name": "candles"}, "mark": {"type": "bar", "width": 2, "strokeWidth": 1, "xOffset": 0.5},
 "encoding": {"x": {"field": "i", "type": "quantitative", "title": null}, "y": {"field": "o", "type": "quantitative", "title": null}, "y2": {"field": "c"},
  "fill": {"condition": {"test": "datum.c >= datum.o", "value": "#FFFFFF"}, "value": "#000000"},
  "stroke": {"condition": {"test": "datum.c >= datum.o", "value": "#000080"}, "value": "#000000"}}},
{"data": {"name": "zigzag"}, "mark": {"type": "line", "color": "#FF0000", "strokeWidth": 2.5},
 "encoding": {"x": {"field": "i", "type": "quantitative", "title": null}, "y": {"field": "p", "type": "quantitative", "title": null}, "order": {"field": "n"}}},
{"data": {"name": "segs"}, "transform": [{"filter": "datum.kind == 'proj'"}],
 "mark": {"type": "rule", "color": "#E02020", "strokeDash": [2, 2], "strokeWidth": 1},
 "encoding": {"x": {"field": "i", "type": "quantitative", "title": null}, "x2": {"field": "i2"}, "y": {"field": "p", "type": "quantitative", "title": null}, "y2": {"field": "p2"}}},
{"data": {"name": "segs"}, "transform": [{"filter": "datum.kind == 'arrow'"}],
 "mark": {"type": "rule", "color": "#1010F0", "strokeWidth": 3},
 "encoding": {"x": {"field": "i", "type": "quantitative", "title": null}, "x2": {"field": "i2"}, "y": {"field": "p", "type": "quantitative", "title": null}, "y2": {"field": "p2"}}},
{"data": {"name": "segs"}, "transform": [{"filter": "datum.kind == 'tick'"}],
 "mark": {"type": "rule", "color": "#2020C8", "strokeWidth": 2},
 "encoding": {"x": {"field": "i", "type": "quantitative", "title": null}, "x2": {"field": "i2"}, "y": {"field": "p", "type": "quantitative", "title": null}, "y2": {"field": "p2"}}},
{"data": {"name": "heads"}, "mark": {"type": "point", "shape": "triangle-up", "filled": true, "color": "#1010F0", "size": 70, "angle": 169, "opacity": 1},
 "encoding": {"x": {"field": "i", "type": "quantitative", "title": null}, "y": {"field": "p", "type": "quantitative", "title": null}}},
{"data": {"values": [{"i": 181, "p": 1.21224}]}, "mark": {"type": "point", "shape": "square", "filled": false, "color": "#FFFFFF", "size": 20, "strokeWidth": 1, "opacity": 1},
 "encoding": {"x": {"field": "i", "type": "quantitative", "title": null}, "y": {"field": "p", "type": "quantitative", "title": null}}},
{"data": {"values": [{"i": 8.75, "p": 1.19322}, {"i": 11, "p": 1.1933}]}, "mark": {"type": "circle", "color": "#8A8A8A", "size": 250, "opacity": 1},
 "encoding": {"x": {"field": "i", "type": "quantitative", "title": null}, "y": {"field": "p", "type": "quantitative", "title": null}}},
{"data": {"name": "leftText"}, "mark": {"type": "text", "align": "left", "baseline": "middle", "font": "Liberation Sans", "fontSize": 10.5, "color": "#000000"},
 "encoding": {"x": {"field": "i", "type": "quantitative", "title": null}, "y": {"field": "p", "type": "quantitative", "title": null}, "text": {"field": "t"}}},
{"data": {"name": "headText"}, "mark": {"type": "text", "align": "left", "baseline": "middle", "font": "Liberation Sans", "fontSize": 10, "color": "#000000"},
 "encoding": {"x": {"field": "i", "type": "quantitative", "title": null}, "y": {"field": "p", "type": "quantitative", "title": null}, "text": {"field": "t"}}},
{"data": {"name": "rightText"}, "mark": {"type": "text", "align": "right", "baseline": "middle", "font": "Liberation Sans", "fontSize": 10, "color": "#000000"},
 "encoding": {"x": {"field": "i", "type": "quantitative", "title": null}, "y": {"field": "p", "type": "quantitative", "title": null}, "text": {"field": "t"}}},
{"data": {"values": [{"i": 431, "p": 1.19224, "t": "14:49"}]}, "mark": {"type": "text", "align": "right", "baseline": "middle", "font": "Liberation Sans", "fontSize": 11, "color": "#000000"},
 "encoding": {"x": {"field": "i", "type": "quantitative", "title": null}, "y": {"field": "p", "type": "quantitative", "title": null}, "text": {"field": "t"}}},
{"data": {"values": [{"i": 430.5, "p": 1.19343, "t": "10"}]}, "mark": {"type": "text", "align": "right", "baseline": "middle", "font": "Liberation Sans", "fontSize": 12, "color": "#FF2020"},
 "encoding": {"x": {"field": "i", "type": "quantitative", "title": null}, "y": {"field": "p", "type": "quantitative", "title": null}, "text": {"field": "t"}}},
{"data": {"values": [{"i": 432.25, "i2": 442.5, "p": 1.19336, "p2": 1.19249}]}, "mark": {"type": "rect", "color": "#000000"},
 "encoding": {"x": {"field": "i", "type": "quantitative", "title": null}, "x2": {"field": "i2"}, "y": {"field": "p", "type": "quantitative", "title": null}, "y2": {"field": "p2"}}},
{"data": {"values": [{"i": 433.3, "p": 1.19294, "t": "1.19294"}]}, "mark": {"type": "text", "align": "left", "baseline": "middle", "font": "Liberation Sans", "fontSize": 10, "color": "#FFFFFF"},
 "encoding": {"x": {"field": "i", "type": "quantitative", "title": null}, "y": {"field": "p", "type": "quantitative", "title": null}, "text": {"field": "t"}}},
{"data": {"name": "toolbar"}, "mark": {"type": "rect", "fill": "#B2B2B2", "stroke": "#7A7A7A", "strokeWidth": 1, "cornerRadius": 2},
 "encoding": {"x": {"field": "i", "type": "quantitative", "title": null}, "x2": {"field": "i2"}, "y": {"field": "p", "type": "quantitative", "title": null}, "y2": {"field": "p2"}}},
{"data": {"name": "buttons"}, "mark": {"type": "rect", "stroke": "#7C7C7C", "strokeWidth": 1, "cornerRadius": 2},
 "encoding": {"x": {"datum": 411, "type": "quantitative", "title": null}, "x2": {"datum": 430.5}, "y": {"field": "p", "type": "quantitative", "title": null}, "y2": {"field": "p2"},
  "fill": {"condition": {"test": "datum.on", "value": "#929292"}, "value": "#ADADAD"}}},
{"data": {"name": "buttons"}, "mark": {"type": "rect"},
 "encoding": {"x": {"datum": 411.6, "type": "quantitative", "title": null}, "x2": {"datum": 412.5}, "y": {"field": "q", "type": "quantitative", "title": null}, "y2": {"field": "q2"},
  "color": {"field": "side", "type": "nominal", "scale": {"domain": ["buy", "sell"], "range": ["#2E8B2E", "#F05A5A"]}, "legend": null}}},
{"data": {"name": "buttons"}, "mark": {"type": "text", "align": "center", "baseline": "middle", "font": "Liberation Sans", "fontSize": 10.5, "color": "#1A1A1A"},
 "encoding": {"x": {"datum": 420.5, "type": "quantitative", "title": null}, "y": {"field": "pm", "type": "quantitative", "title": null}, "text": {"field": "sym"}}},
{"data": {"values": [{"i": 412, "i2": 429.5, "p": 1.2251}]}, "mark": {"type": "rule", "color": "#858585", "strokeWidth": 1},
 "encoding": {"x": {"field": "i", "type": "quantitative", "title": null}, "x2": {"field": "i2"}, "y": {"field": "p", "type": "quantitative", "title": null}}},
{"data": {"values": [{"i": 409.9, "p": 1.22616}]}, "mark": {"type": "point", "shape": "triangle-right", "filled": true, "color": "#000000", "size": 14, "opacity": 1},
 "encoding": {"x": {"field": "i", "type": "quantitative", "title": null}, "y": {"field": "p", "type": "quantitative", "title": null}}}
]
}
